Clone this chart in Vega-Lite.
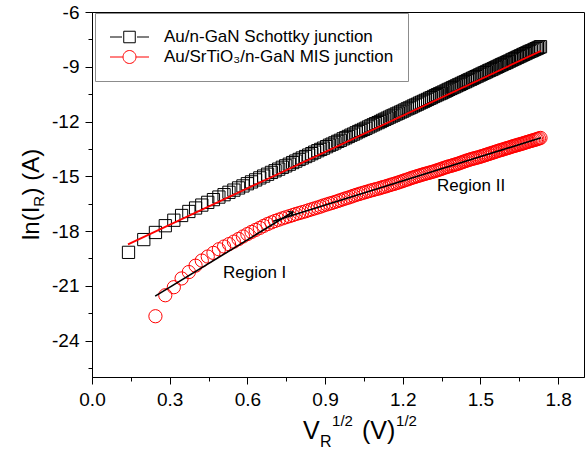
{
  "$schema": "https://vega.github.io/schema/vega-lite/v6.json",
  "width": 492,
  "height": 365,
  "autosize": {"type": "none"},
  "padding": {"left": 92, "top": 12, "right": 2, "bottom": 73},
  "background": "white",
  "config": {
    "view": {"stroke": "black", "strokeWidth": 1},
    "font": "Liberation Sans",
    "axis": {"domainColor": "black", "tickColor": "black", "labelColor": "black", "labelFont": "Liberation Sans", "labelFontSize": 19, "grid": false, "domainWidth": 1, "tickWidth": 1, "labelFlush": false, "labelOverlap": false}
  },
  "datasets": {
    "pts": [
      {"s":"A","x":0.141,"y":-19.17},{"s":"A","x":0.2,"y":-18.47},{"s":"A","x":0.245,"y":-18.08},{"s":"A","x":0.283,"y":-17.71},{"s":"A","x":0.316,"y":-17.41},{"s":"A","x":0.346,"y":-17.15},{"s":"A","x":0.374,"y":-16.93},{"s":"A","x":0.4,"y":-16.74},{"s":"A","x":0.424,"y":-16.58},{"s":"A","x":0.447,"y":-16.43},
      {"s":"A","x":0.469,"y":-16.28},{"s":"A","x":0.49,"y":-16.14},{"s":"A","x":0.51,"y":-16.01},{"s":"A","x":0.529,"y":-15.88},{"s":"A","x":0.548,"y":-15.76},{"s":"A","x":0.566,"y":-15.64},{"s":"A","x":0.583,"y":-15.53},{"s":"A","x":0.6,"y":-15.41},{"s":"A","x":0.616,"y":-15.31},{"s":"A","x":0.632,"y":-15.2},
      {"s":"A","x":0.648,"y":-15.09},{"s":"A","x":0.663,"y":-14.99},{"s":"A","x":0.678,"y":-14.89},{"s":"A","x":0.693,"y":-14.79},{"s":"A","x":0.707,"y":-14.7},{"s":"A","x":0.721,"y":-14.61},{"s":"A","x":0.735,"y":-14.51},{"s":"A","x":0.748,"y":-14.43},{"s":"A","x":0.762,"y":-14.34},{"s":"A","x":0.775,"y":-14.25},
      {"s":"A","x":0.787,"y":-14.17},{"s":"A","x":0.8,"y":-14.08},{"s":"A","x":0.812,"y":-14.0},{"s":"A","x":0.825,"y":-13.92},{"s":"A","x":0.837,"y":-13.84},{"s":"A","x":0.849,"y":-13.76},{"s":"A","x":0.86,"y":-13.68},{"s":"A","x":0.872,"y":-13.6},{"s":"A","x":0.883,"y":-13.53},{"s":"A","x":0.894,"y":-13.46},
      {"s":"A","x":0.906,"y":-13.38},{"s":"A","x":0.917,"y":-13.3},{"s":"A","x":0.927,"y":-13.24},{"s":"A","x":0.938,"y":-13.17},{"s":"A","x":0.949,"y":-13.09},{"s":"A","x":0.959,"y":-13.03},{"s":"A","x":0.97,"y":-12.95},{"s":"A","x":0.98,"y":-12.89},{"s":"A","x":0.99,"y":-12.82},{"s":"A","x":1.0,"y":-12.75},
      {"s":"A","x":1.01,"y":-12.69},{"s":"A","x":1.02,"y":-12.62},{"s":"A","x":1.03,"y":-12.55},{"s":"A","x":1.039,"y":-12.49},{"s":"A","x":1.049,"y":-12.43},{"s":"A","x":1.058,"y":-12.37},{"s":"A","x":1.068,"y":-12.3},{"s":"A","x":1.077,"y":-12.24},{"s":"A","x":1.086,"y":-12.18},{"s":"A","x":1.095,"y":-12.12},
      {"s":"A","x":1.105,"y":-12.06},{"s":"A","x":1.114,"y":-12.0},{"s":"A","x":1.122,"y":-11.94},{"s":"A","x":1.131,"y":-11.88},{"s":"A","x":1.14,"y":-11.82},{"s":"A","x":1.149,"y":-11.76},{"s":"A","x":1.158,"y":-11.7},{"s":"A","x":1.166,"y":-11.65},{"s":"A","x":1.175,"y":-11.59},{"s":"A","x":1.183,"y":-11.54},
      {"s":"A","x":1.192,"y":-11.48},{"s":"A","x":1.2,"y":-11.43},{"s":"A","x":1.208,"y":-11.37},{"s":"A","x":1.217,"y":-11.31},{"s":"A","x":1.225,"y":-11.26},{"s":"A","x":1.233,"y":-11.21},{"s":"A","x":1.241,"y":-11.15},{"s":"A","x":1.249,"y":-11.1},{"s":"A","x":1.257,"y":-11.05},{"s":"A","x":1.265,"y":-10.99},
      {"s":"A","x":1.273,"y":-10.94},{"s":"A","x":1.281,"y":-10.89},{"s":"A","x":1.288,"y":-10.84},{"s":"A","x":1.296,"y":-10.79},{"s":"A","x":1.304,"y":-10.73},{"s":"A","x":1.311,"y":-10.69},{"s":"A","x":1.319,"y":-10.63},{"s":"A","x":1.327,"y":-10.58},{"s":"A","x":1.334,"y":-10.53},{"s":"A","x":1.342,"y":-10.48},
      {"s":"A","x":1.349,"y":-10.44},{"s":"A","x":1.356,"y":-10.39},{"s":"A","x":1.364,"y":-10.34},{"s":"A","x":1.371,"y":-10.29},{"s":"A","x":1.378,"y":-10.24},{"s":"A","x":1.386,"y":-10.19},{"s":"A","x":1.393,"y":-10.14},{"s":"A","x":1.4,"y":-10.1},{"s":"A","x":1.407,"y":-10.05},{"s":"A","x":1.414,"y":-10.0},
      {"s":"A","x":1.421,"y":-9.96},{"s":"A","x":1.428,"y":-9.91},{"s":"A","x":1.435,"y":-9.86},{"s":"A","x":1.442,"y":-9.82},{"s":"A","x":1.449,"y":-9.77},{"s":"A","x":1.456,"y":-9.72},{"s":"A","x":1.463,"y":-9.68},{"s":"A","x":1.47,"y":-9.63},{"s":"A","x":1.476,"y":-9.59},{"s":"A","x":1.483,"y":-9.54},
      {"s":"A","x":1.49,"y":-9.5},{"s":"A","x":1.497,"y":-9.45},{"s":"A","x":1.503,"y":-9.41},{"s":"A","x":1.51,"y":-9.36},{"s":"A","x":1.517,"y":-9.32},{"s":"A","x":1.523,"y":-9.28},{"s":"A","x":1.53,"y":-9.23},{"s":"A","x":1.536,"y":-9.19},{"s":"A","x":1.543,"y":-9.15},{"s":"A","x":1.549,"y":-9.11},
      {"s":"A","x":1.556,"y":-9.06},{"s":"A","x":1.562,"y":-9.02},{"s":"A","x":1.568,"y":-8.98},{"s":"A","x":1.575,"y":-8.93},{"s":"A","x":1.581,"y":-8.89},{"s":"A","x":1.587,"y":-8.85},{"s":"A","x":1.594,"y":-8.81},{"s":"A","x":1.6,"y":-8.77},{"s":"A","x":1.606,"y":-8.73},{"s":"A","x":1.612,"y":-8.69},
      {"s":"A","x":1.619,"y":-8.64},{"s":"A","x":1.625,"y":-8.6},{"s":"A","x":1.631,"y":-8.56},{"s":"A","x":1.637,"y":-8.52},{"s":"A","x":1.643,"y":-8.48},{"s":"A","x":1.649,"y":-8.44},{"s":"A","x":1.655,"y":-8.4},{"s":"A","x":1.661,"y":-8.36},{"s":"A","x":1.667,"y":-8.32},{"s":"A","x":1.673,"y":-8.28},
      {"s":"A","x":1.679,"y":-8.24},{"s":"A","x":1.685,"y":-8.2},{"s":"A","x":1.691,"y":-8.16},{"s":"A","x":1.697,"y":-8.13},{"s":"A","x":1.703,"y":-8.09},{"s":"A","x":1.709,"y":-8.05},{"s":"A","x":1.715,"y":-8.01},{"s":"A","x":1.72,"y":-7.98},{"s":"A","x":1.726,"y":-7.94},{"s":"A","x":1.732,"y":-7.9},

      {"s":"B","x":0.245,"y":-22.67},{"s":"B","x":0.283,"y":-21.52},{"s":"B","x":0.316,"y":-21.08},{"s":"B","x":0.346,"y":-20.6},{"s":"B","x":0.374,"y":-20.25},{"s":"B","x":0.4,"y":-19.9},{"s":"B","x":0.424,"y":-19.62},{"s":"B","x":0.447,"y":-19.4},
      {"s":"B","x":0.469,"y":-19.2},{"s":"B","x":0.49,"y":-19.0},{"s":"B","x":0.51,"y":-18.85},{"s":"B","x":0.529,"y":-18.72},{"s":"B","x":0.548,"y":-18.58},{"s":"B","x":0.566,"y":-18.44},{"s":"B","x":0.583,"y":-18.3},{"s":"B","x":0.6,"y":-18.17},{"s":"B","x":0.616,"y":-18.05},{"s":"B","x":0.632,"y":-17.94},
      {"s":"B","x":0.648,"y":-17.83},{"s":"B","x":0.663,"y":-17.72},{"s":"B","x":0.678,"y":-17.62},{"s":"B","x":0.693,"y":-17.53},{"s":"B","x":0.707,"y":-17.45},{"s":"B","x":0.721,"y":-17.38},{"s":"B","x":0.735,"y":-17.31},{"s":"B","x":0.748,"y":-17.25},{"s":"B","x":0.762,"y":-17.19},{"s":"B","x":0.775,"y":-17.13},
      {"s":"B","x":0.787,"y":-17.07},{"s":"B","x":0.8,"y":-17.02},{"s":"B","x":0.812,"y":-16.97},{"s":"B","x":0.825,"y":-16.92},{"s":"B","x":0.837,"y":-16.86},{"s":"B","x":0.849,"y":-16.81},{"s":"B","x":0.86,"y":-16.76},{"s":"B","x":0.872,"y":-16.71},{"s":"B","x":0.883,"y":-16.66},{"s":"B","x":0.894,"y":-16.6},
      {"s":"B","x":0.906,"y":-16.55},{"s":"B","x":0.917,"y":-16.5},{"s":"B","x":0.927,"y":-16.46},{"s":"B","x":0.938,"y":-16.41},{"s":"B","x":0.949,"y":-16.36},{"s":"B","x":0.959,"y":-16.31},{"s":"B","x":0.97,"y":-16.26},{"s":"B","x":0.98,"y":-16.21},{"s":"B","x":0.99,"y":-16.17},{"s":"B","x":1.0,"y":-16.12},
      {"s":"B","x":1.01,"y":-16.07},{"s":"B","x":1.02,"y":-16.02},{"s":"B","x":1.03,"y":-15.98},{"s":"B","x":1.039,"y":-15.94},{"s":"B","x":1.049,"y":-15.9},{"s":"B","x":1.058,"y":-15.86},{"s":"B","x":1.068,"y":-15.82},{"s":"B","x":1.077,"y":-15.78},{"s":"B","x":1.086,"y":-15.75},{"s":"B","x":1.095,"y":-15.71},
      {"s":"B","x":1.105,"y":-15.68},{"s":"B","x":1.114,"y":-15.64},{"s":"B","x":1.122,"y":-15.6},{"s":"B","x":1.131,"y":-15.57},{"s":"B","x":1.14,"y":-15.53},{"s":"B","x":1.149,"y":-15.49},{"s":"B","x":1.158,"y":-15.45},{"s":"B","x":1.166,"y":-15.42},{"s":"B","x":1.175,"y":-15.38},{"s":"B","x":1.183,"y":-15.34},
      {"s":"B","x":1.192,"y":-15.3},{"s":"B","x":1.2,"y":-15.26},{"s":"B","x":1.208,"y":-15.22},{"s":"B","x":1.217,"y":-15.18},{"s":"B","x":1.225,"y":-15.14},{"s":"B","x":1.233,"y":-15.1},{"s":"B","x":1.241,"y":-15.06},{"s":"B","x":1.249,"y":-15.03},{"s":"B","x":1.257,"y":-14.99},{"s":"B","x":1.265,"y":-14.96},
      {"s":"B","x":1.273,"y":-14.92},{"s":"B","x":1.281,"y":-14.89},{"s":"B","x":1.288,"y":-14.86},{"s":"B","x":1.296,"y":-14.83},{"s":"B","x":1.304,"y":-14.8},{"s":"B","x":1.311,"y":-14.77},{"s":"B","x":1.319,"y":-14.74},{"s":"B","x":1.327,"y":-14.7},{"s":"B","x":1.334,"y":-14.67},{"s":"B","x":1.342,"y":-14.63},
      {"s":"B","x":1.349,"y":-14.6},{"s":"B","x":1.356,"y":-14.56},{"s":"B","x":1.364,"y":-14.52},{"s":"B","x":1.371,"y":-14.49},{"s":"B","x":1.378,"y":-14.46},{"s":"B","x":1.386,"y":-14.43},{"s":"B","x":1.393,"y":-14.4},{"s":"B","x":1.4,"y":-14.37},{"s":"B","x":1.407,"y":-14.34},{"s":"B","x":1.414,"y":-14.31},
      {"s":"B","x":1.421,"y":-14.27},{"s":"B","x":1.428,"y":-14.24},{"s":"B","x":1.435,"y":-14.2},{"s":"B","x":1.442,"y":-14.17},{"s":"B","x":1.449,"y":-14.13},{"s":"B","x":1.456,"y":-14.1},{"s":"B","x":1.463,"y":-14.07},{"s":"B","x":1.47,"y":-14.04},{"s":"B","x":1.476,"y":-14.02},{"s":"B","x":1.483,"y":-13.99},
      {"s":"B","x":1.49,"y":-13.97},{"s":"B","x":1.497,"y":-13.94},{"s":"B","x":1.503,"y":-13.91},{"s":"B","x":1.51,"y":-13.88},{"s":"B","x":1.517,"y":-13.85},{"s":"B","x":1.523,"y":-13.82},{"s":"B","x":1.53,"y":-13.79},{"s":"B","x":1.536,"y":-13.76},{"s":"B","x":1.543,"y":-13.73},{"s":"B","x":1.549,"y":-13.7},
      {"s":"B","x":1.556,"y":-13.67},{"s":"B","x":1.562,"y":-13.64},{"s":"B","x":1.568,"y":-13.61},{"s":"B","x":1.575,"y":-13.58},{"s":"B","x":1.581,"y":-13.56},{"s":"B","x":1.587,"y":-13.53},{"s":"B","x":1.594,"y":-13.5},{"s":"B","x":1.6,"y":-13.47},{"s":"B","x":1.606,"y":-13.45},{"s":"B","x":1.612,"y":-13.42},
      {"s":"B","x":1.619,"y":-13.39},{"s":"B","x":1.625,"y":-13.36},{"s":"B","x":1.631,"y":-13.34},{"s":"B","x":1.637,"y":-13.31},{"s":"B","x":1.643,"y":-13.29},{"s":"B","x":1.649,"y":-13.26},{"s":"B","x":1.655,"y":-13.24},{"s":"B","x":1.661,"y":-13.21},{"s":"B","x":1.667,"y":-13.19},{"s":"B","x":1.673,"y":-13.16},
      {"s":"B","x":1.679,"y":-13.13},{"s":"B","x":1.685,"y":-13.11},{"s":"B","x":1.691,"y":-13.08},{"s":"B","x":1.697,"y":-13.06},{"s":"B","x":1.703,"y":-13.03},{"s":"B","x":1.709,"y":-13.01},{"s":"B","x":1.715,"y":-12.98},{"s":"B","x":1.72,"y":-12.96},{"s":"B","x":1.726,"y":-12.93},{"s":"B","x":1.732,"y":-12.9}
    ],
    "fitS": [{"x": 0.139, "y": -18.73}, {"x": 1.734, "y": -8.13}],
    "fitI": [{"x": 0.244, "y": -21.57}, {"x": 0.776, "y": -16.96}],
    "fitII": [{"x": 0.7, "y": -17.47}, {"x": 1.734, "y": -12.89}],
    "arrow": [{"x": 0.776, "y": -16.96}],
    "notes": [{"label": "Region I", "x": 0.506, "y": -20.6}, {"label": "Region II", "x": 1.3326, "y": -15.8}]
  },
  "resolve": {"axis": {"x": "independent", "y": "independent"}},
  "layer": [
    {
      "data": {"values": []},
      "mark": {"type": "point", "filled": false, "opacity": 1, "strokeWidth": 1},
      "encoding": {
        "color": {"field": "s", "type": "nominal", "scale": {"domain": ["A", "B"], "range": ["black", "#ff0000"]},
                  "legend": {"title": null, "orient": "none", "legendX": 3, "legendY": 1, "padding": 14, "strokeColor": "#8c8c8c", "fillColor": "white",
                             "labelFont": "Liberation Sans", "labelFontSize": 17, "labelColor": "black", "labelLimit": 0, "clipHeight": 20,
                             "symbolSize": 144, "symbolStrokeWidth": 1, "symbolOffset": 12, "labelOffset": 26, "rowPadding": -9,
                             "labelExpr": "datum.value === 'A' ? 'Au/n-GaN Schottky junction' : 'Au/SrTiO₃/n-GaN MIS junction'"}},
        "shape": {"field": "s", "type": "nominal",
                  "scale": {"domain": ["A", "B"], "range": ["M-3.25,0 L-1.25,0 M1.25,0 L3.25,0 M-0.96,-0.96 L0.96,-0.96 L0.96,0.96 L-0.96,0.96 Z", "M-3.25,0 L-1.1,0 M1.1,0 L3.25,0 M1.08,0 A1.08,1.08 0 1,1 -1.08,0 A1.08,1.08 0 1,1 1.08,0 Z"]},
                  "legend": {"title": null, "orient": "none", "legendX": 3, "legendY": 1, "padding": 14, "strokeColor": "#8c8c8c", "fillColor": "white",
                             "labelFont": "Liberation Sans", "labelFontSize": 17, "labelColor": "black", "labelLimit": 0, "clipHeight": 20,
                             "symbolSize": 144, "symbolStrokeWidth": 1, "symbolOffset": 12, "labelOffset": 26, "rowPadding": -9,
                             "labelExpr": "datum.value === 'A' ? 'Au/n-GaN Schottky junction' : 'Au/SrTiO₃/n-GaN MIS junction'"}}
      }
    },
    {
      "data": {"name": "pts"},
      "transform": [{"filter": "datum.s === 'A'"}],
      "mark": {"type": "point", "filled": false, "opacity": 1, "strokeWidth": 1, "size": 150, "shape": "square", "color": "black"},
      "encoding": {
        "x": {"field": "x", "type": "quantitative", "scale": {"domain": [0, 1.9], "nice": false, "zero": false},
              "axis": {"values": [0, 0.3, 0.6, 0.9, 1.2, 1.5, 1.8], "format": ".1f", "title": null, "tickSize": 7, "labelPadding": 6, "orient": "bottom"}},
        "y": {"field": "y", "type": "quantitative", "scale": {"domain": [-26, -6], "nice": false, "zero": false},
              "axis": {"values": [-24, -21, -18, -15, -12, -9, -6], "labelExpr": "'-' + abs(datum.value)", "title": null, "tickSize": 7, "labelPadding": 6, "orient": "left"}}
      }
    },
    {
      "data": {"name": "pts"},
      "transform": [{"filter": "datum.s === 'B'"}],
      "mark": {"type": "point", "filled": false, "opacity": 1, "strokeWidth": 1, "size": 175, "shape": "circle", "color": "#ff0000"},
      "encoding": {
        "x": {"field": "x", "type": "quantitative", "scale": {"domain": [0, 1.9]}, "axis": null},
        "y": {"field": "y", "type": "quantitative", "scale": {"domain": [-26, -6]}, "axis": null}
      }
    },
    {
      "data": {"name": "fitS"},
      "mark": {"type": "line", "color": "#ff0000", "strokeWidth": 1.8},
      "encoding": {
        "x": {"field": "x", "type": "quantitative", "scale": {"domain": [0, 1.9], "nice": false, "zero": false},
              "axis": {"values": [0.15, 0.45, 0.75, 1.05, 1.35, 1.65], "labels": false, "domain": false, "tickSize": 4, "title": null, "orient": "bottom"}},
        "y": {"field": "y", "type": "quantitative", "scale": {"domain": [-26, -6], "nice": false, "zero": false},
              "axis": {"values": [-25.5, -22.5, -19.5, -16.5, -13.5, -10.5, -7.5], "labels": false, "domain": false, "tickSize": 4, "title": null, "orient": "left"}}
      }
    },
    {
      "data": {"name": "fitI"},
      "mark": {"type": "line", "color": "black", "strokeWidth": 1.6},
      "encoding": {
        "x": {"field": "x", "type": "quantitative", "scale": {"domain": [0, 1.9]}, "axis": null},
        "y": {"field": "y", "type": "quantitative", "scale": {"domain": [-26, -6]}, "axis": null}
      }
    },
    {
      "data": {"name": "fitII"},
      "mark": {"type": "line", "color": "black", "strokeWidth": 1.6},
      "encoding": {
        "x": {"field": "x", "type": "quantitative", "scale": {"domain": [0, 1.9]}, "axis": null},
        "y": {"field": "y", "type": "quantitative", "scale": {"domain": [-26, -6]}, "axis": null}
      }
    },
    {
      "data": {"name": "arrow"},
      "mark": {"type": "point", "filled": false, "opacity": 1, "color": "black", "strokeWidth": 1.3, "size": 64, "angle": 328.5, "shape": "M-1,-0.7 L0,0 L-1,0.7"},
      "encoding": {
        "x": {"field": "x", "type": "quantitative", "scale": {"domain": [0, 1.9]}, "axis": null},
        "y": {"field": "y", "type": "quantitative", "scale": {"domain": [-26, -6]}, "axis": null}
      }
    },
    {
      "data": {"name": "notes"},
      "mark": {"type": "text", "align": "left", "baseline": "alphabetic", "font": "Liberation Sans", "fontSize": 17, "color": "black"},
      "encoding": {
        "x": {"field": "x", "type": "quantitative", "scale": {"domain": [0, 1.9]}, "axis": null},
        "y": {"field": "y", "type": "quantitative", "scale": {"domain": [-26, -6]}, "axis": null},
        "text": {"field": "label"}
      }
    },
    {
      "data": {"values": [{}]},
      "mark": {"type": "text", "align": "left", "baseline": "alphabetic", "font": "Liberation Sans", "fontSize": 24, "color": "black", "angle": 270},
      "encoding": {
        "x": {"datum": -0.2047, "type": "quantitative", "scale": {"domain": [0, 1.9]}, "axis": null},
        "y": {"datum": -18.493, "type": "quantitative", "scale": {"domain": [-26, -6]}, "axis": null},
        "text": {"value": "ln(I"}
      }
    },
    {
      "data": {"values": [{}]},
      "mark": {"type": "text", "align": "left", "baseline": "alphabetic", "font": "Liberation Sans", "fontSize": 15, "color": "black", "angle": 270, "dx": 33.3, "dy": 5},
      "encoding": {
        "x": {"datum": -0.2047, "type": "quantitative", "scale": {"domain": [0, 1.9]}, "axis": null},
        "y": {"datum": -18.493, "type": "quantitative", "scale": {"domain": [-26, -6]}, "axis": null},
        "text": {"value": "R"}
      }
    },
    {
      "data": {"values": [{}]},
      "mark": {"type": "text", "align": "left", "baseline": "alphabetic", "font": "Liberation Sans", "fontSize": 24, "color": "black", "angle": 270, "dx": 44.6},
      "encoding": {
        "x": {"datum": -0.2047, "type": "quantitative", "scale": {"domain": [0, 1.9]}, "axis": null},
        "y": {"datum": -18.493, "type": "quantitative", "scale": {"domain": [-26, -6]}, "axis": null},
        "text": {"value": ") (A)"}
      }
    },
    {
      "data": {"values": [{}]},
      "mark": {"type": "text", "align": "left", "baseline": "alphabetic", "font": "Liberation Sans", "fontSize": 25, "color": "black"},
      "encoding": {
        "x": {"datum": 0.815, "type": "quantitative", "scale": {"domain": [0, 1.9]}, "axis": null},
        "y": {"datum": -29.4, "type": "quantitative", "scale": {"domain": [-26, -6]}, "axis": null},
        "text": {"value": "V"}
      }
    },
    {
      "data": {"values": [{}]},
      "mark": {"type": "text", "align": "left", "baseline": "alphabetic", "font": "Liberation Sans", "fontSize": 16, "color": "black", "dx": 17, "dy": 8},
      "encoding": {
        "x": {"datum": 0.815, "type": "quantitative", "scale": {"domain": [0, 1.9]}, "axis": null},
        "y": {"datum": -29.4, "type": "quantitative", "scale": {"domain": [-26, -6]}, "axis": null},
        "text": {"value": "R"}
      }
    },
    {
      "data": {"values": [{}]},
      "mark": {"type": "text", "align": "left", "baseline": "alphabetic", "font": "Liberation Sans", "fontSize": 15, "color": "black", "dx": 29, "dy": -13},
      "encoding": {
        "x": {"datum": 0.815, "type": "quantitative", "scale": {"domain": [0, 1.9]}, "axis": null},
        "y": {"datum": -29.4, "type": "quantitative", "scale": {"domain": [-26, -6]}, "axis": null},
        "text": {"value": "1/2"}
      }
    },
    {
      "data": {"values": [{}]},
      "mark": {"type": "text", "align": "left", "baseline": "alphabetic", "font": "Liberation Sans", "fontSize": 25, "color": "black", "dx": 59},
      "encoding": {
        "x": {"datum": 0.815, "type": "quantitative", "scale": {"domain": [0, 1.9]}, "axis": null},
        "y": {"datum": -29.4, "type": "quantitative", "scale": {"domain": [-26, -6]}, "axis": null},
        "text": {"value": "(V)"}
      }
    },
    {
      "data": {"values": [{}]},
      "mark": {"type": "text", "align": "left", "baseline": "alphabetic", "font": "Liberation Sans", "fontSize": 15, "color": "black", "dx": 93, "dy": -13},
      "encoding": {
        "x": {"datum": 0.815, "type": "quantitative", "scale": {"domain": [0, 1.9]}, "axis": null},
        "y": {"datum": -29.4, "type": "quantitative", "scale": {"domain": [-26, -6]}, "axis": null},
        "text": {"value": "1/2"}
      }
    }
  ]
}
